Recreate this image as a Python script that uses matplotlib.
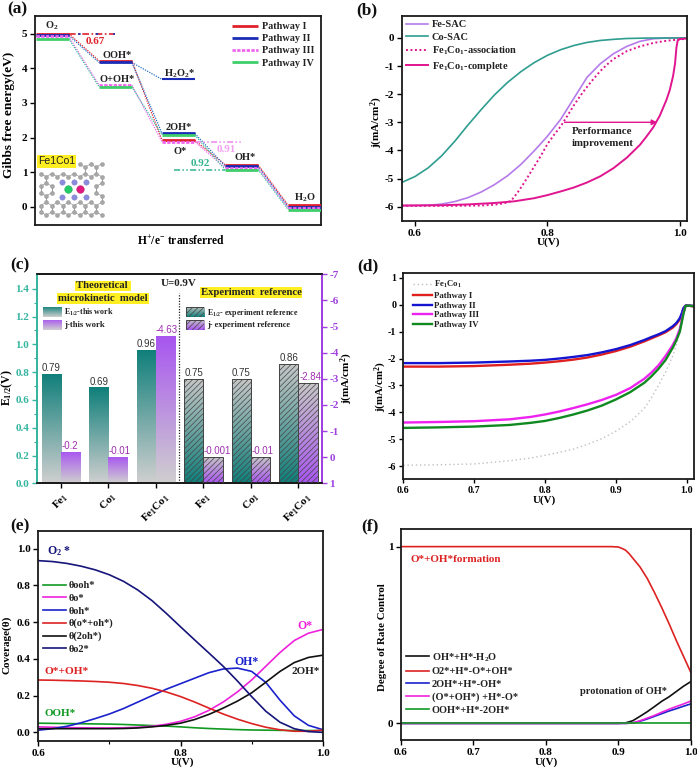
import numpy as np
import matplotlib
matplotlib.use("Agg")
import matplotlib.pyplot as plt
from matplotlib.transforms import Affine2D
from matplotlib.colors import LinearSegmentedColormap
from matplotlib.patches import Rectangle

W, H = 697, 767
SERIF = "Liberation Serif"
plt.rcParams.update({
    "font.family": SERIF, "font.weight": "bold", "font.size": 7.5,
    "axes.labelweight": "bold",
    "mathtext.fontset": "custom", "mathtext.rm": "Liberation Serif:bold",
    "mathtext.bf": "Liberation Serif:bold", "mathtext.it": "Liberation Serif:bold",
    "mathtext.default": "rm", "axes.linewidth": 1.3, "hatch.linewidth": 0.5,
    "xtick.major.width": 1.0, "ytick.major.width": 1.0,
    "xtick.minor.width": 0.8, "ytick.minor.width": 0.8,
    "axes.edgecolor": "#1a1a1a", "text.color": "#222222",
})

# ---------- (a) energy levels ----------
A_STEPS = [0, 1, 2, 3, 4]
A_E_I = [5.00, 4.22, 1.92, 1.22, 0.05]
A_E_II = [4.95, 4.17, 2.12, 1.18, 0.00]
A_E_III = [4.92, 3.52, 1.88, 1.13, -0.03]
A_E_IV = [4.86, 3.47, 2.07, 1.08, -0.08]
A_H2O2 = 3.68
A_NAMES = ["Pathway I", "Pathway II", "Pathway III", "Pathway IV"]

# ---------- (b) ----------
B_CO_X = [0.58, 0.60, 0.62, 0.64, 0.66, 0.68, 0.70, 0.72, 0.74, 0.76, 0.78, 0.80, 0.82, 0.84, 0.86, 0.88, 0.90, 0.92, 0.95, 1.01]
B_CO_Y = [-5.14, -4.93, -4.62, -4.20, -3.68, -3.10, -2.55, -2.03, -1.58, -1.20, -0.88, -0.62, -0.42, -0.27, -0.16, -0.09, -0.05, -0.02, -0.005, 0]
B_FE_X = [0.58, 0.60, 0.62, 0.64, 0.66, 0.68, 0.70, 0.72, 0.74, 0.76, 0.78, 0.80, 0.82, 0.84, 0.86, 0.88, 0.90, 0.92, 0.94, 0.96, 0.98, 1.01]
B_FE_Y = [-5.96, -5.96, -5.95, -5.91, -5.82, -5.68, -5.48, -5.22, -4.90, -4.50, -4.02, -3.50, -2.90, -2.15, -1.40, -0.92, -0.56, -0.30, -0.12, -0.03, -0.005, 0]
B_AS_X = [0.58, 0.66, 0.70, 0.72, 0.735, 0.745, 0.755, 0.765, 0.78, 0.79, 0.80, 0.81, 0.82, 0.83, 0.84, 0.85, 0.86, 0.87, 0.88, 0.89, 0.90, 0.92, 0.94, 0.96, 0.98, 1.01]
B_AS_Y = [-5.97, -5.97, -5.96, -5.93, -5.88, -5.80, -5.50, -5.15, -4.58, -4.20, -3.78, -3.45, -3.15, -2.78, -2.40, -2.05, -1.74, -1.45, -1.18, -0.95, -0.75, -0.47, -0.30, -0.18, -0.10, -0.03]
B_CP_X = [0.58, 0.64, 0.68, 0.72, 0.75, 0.78, 0.80, 0.82, 0.84, 0.86, 0.88, 0.90, 0.92, 0.94, 0.95, 0.96, 0.97, 0.98, 0.985, 0.99, 0.993, 0.995, 0.997, 1.0, 1.011]
B_CP_Y = [-5.96, -5.95, -5.92, -5.87, -5.81, -5.70, -5.59, -5.46, -5.32, -5.14, -4.92, -4.63, -4.26, -3.80, -3.50, -3.18, -2.76, -2.20, -1.85, -1.35, -0.90, -0.35, -0.08, -0.04, -0.02]

# ---------- (c) ----------
C_LABELS = [r"Fe$_1$", r"Co$_1$", r"Fe$_1$Co$_1$", r"Fe$_1$", r"Co$_1$", r"Fe$_1$Co$_1$"]
C_E = [0.79, 0.69, 0.96, 0.75, 0.75, 0.86]
C_J = [-0.2, -0.01, -4.63, -0.001, -0.01, -2.84]
C_J_TXT = ["-0.2", "-0.01", "-4.63", "-0.001", "-0.01", "-2.84"]

# ---------- (d) ----------
D_X = [0.60, 0.65, 0.70, 0.75, 0.78, 0.80, 0.82, 0.84, 0.86, 0.88, 0.90, 0.92, 0.94, 0.95, 0.96, 0.97, 0.98, 0.985, 0.99, 0.993, 0.995, 0.998, 1.00, 1.01]
D_I = [-2.30, -2.30, -2.28, -2.23, -2.19, -2.15, -2.10, -2.04, -1.96, -1.85, -1.72, -1.56, -1.36, -1.25, -1.14, -1.02, -0.85, -0.72, -0.55, -0.35, -0.15, -0.04, -0.03, -0.06]
D_II = [-2.17, -2.17, -2.15, -2.11, -2.08, -2.05, -2.00, -1.94, -1.87, -1.77, -1.65, -1.50, -1.31, -1.20, -1.10, -0.98, -0.80, -0.68, -0.50, -0.30, -0.13, -0.03, -0.02, -0.05]
D_III = [-4.38, -4.36, -4.33, -4.26, -4.17, -4.08, -3.97, -3.84, -3.70, -3.54, -3.35, -3.10, -2.75, -2.52, -2.25, -1.90, -1.50, -1.25, -0.90, -0.55, -0.30, -0.05, -0.03, -0.05]
D_IV = [-4.58, -4.56, -4.53, -4.47, -4.39, -4.32, -4.21, -4.08, -3.93, -3.75, -3.52, -3.25, -2.90, -2.66, -2.38, -2.05, -1.60, -1.33, -1.00, -0.62, -0.35, -0.05, -0.03, -0.05]
D_REF = [-5.97, -5.95, -5.92, -5.80, -5.70, -5.60, -5.49, -5.37, -5.19, -4.98, -4.70, -4.35, -3.85, -3.45, -3.00, -2.50, -1.90, -1.50, -1.00, -0.60, -0.20, -0.05, -0.03, -0.05]

# ---------- (e) ----------
E_X = [0.60, 0.62, 0.64, 0.66, 0.68, 0.70, 0.72, 0.74, 0.76, 0.78, 0.80, 0.82, 0.84, 0.86, 0.88, 0.90, 0.92, 0.94, 0.96, 0.98, 1.00]
E_OOH = [0.050, 0.049, 0.048, 0.047, 0.046, 0.045, 0.043, 0.040, 0.037, 0.034, 0.030, 0.025, 0.021, 0.018, 0.015, 0.013, 0.012, 0.011, 0.010, 0.010, 0.010]
E_O = [0.030, 0.028, 0.026, 0.025, 0.024, 0.024, 0.025, 0.028, 0.033, 0.044, 0.060, 0.085, 0.120, 0.165, 0.220, 0.285, 0.360, 0.435, 0.500, 0.540, 0.560]
E_OH = [0.012, 0.020, 0.033, 0.052, 0.075, 0.100, 0.130, 0.165, 0.200, 0.235, 0.265, 0.295, 0.325, 0.345, 0.350, 0.332, 0.272, 0.175, 0.090, 0.038, 0.015]
E_OOH2 = [0.285, 0.284, 0.282, 0.280, 0.277, 0.273, 0.266, 0.255, 0.240, 0.220, 0.195, 0.165, 0.132, 0.100, 0.072, 0.048, 0.028, 0.014, 0.006, 0.006, 0.012]
E_2OH = [0.020, 0.020, 0.020, 0.020, 0.020, 0.020, 0.021, 0.024, 0.030, 0.038, 0.050, 0.070, 0.098, 0.132, 0.170, 0.215, 0.273, 0.332, 0.380, 0.408, 0.420]
E_O2 = [0.935, 0.930, 0.920, 0.905, 0.885, 0.858, 0.822, 0.775, 0.717, 0.648, 0.575, 0.503, 0.432, 0.360, 0.280, 0.195, 0.115, 0.055, 0.020, 0.004, 0.000]

# ---------- (f) ----------
F_RED_X = [0.60, 0.85, 0.89, 0.90, 0.905, 0.91, 0.915, 0.92, 0.93, 0.94, 0.95, 0.96, 0.97, 0.98, 0.99, 1.00]
F_RED_Y = [1.0, 1.0, 1.0, 0.998, 0.99, 0.98, 0.96, 0.935, 0.885, 0.82, 0.74, 0.655, 0.565, 0.47, 0.38, 0.29]
F_X = [0.60, 0.90, 0.91, 0.92, 0.93, 0.94, 0.95, 0.96, 0.97, 0.98, 0.99, 1.00]
F_BLACK = [0, 0, 0.003, 0.015, 0.040, 0.066, 0.095, 0.125, 0.150, 0.180, 0.210, 0.236]
F_BLUE = [0, 0, 0, 0.002, 0.012, 0.025, 0.040, 0.055, 0.070, 0.083, 0.097, 0.110]
F_MAG = [0, 0, 0, 0.003, 0.015, 0.030, 0.045, 0.063, 0.080, 0.095, 0.110, 0.126]
F_GREEN = [0, 0, 0, 0, 0, 0, 0, 0, 0, 0, 0, 0]

RED, BLUE, MAG, GREEN = "#e0202c", "#1a2bb5", "#ee66ee", "#3fcf6a"
TEAL = "#0f7f7a"
PURP = "#a855f0"
GREY = "#cfcfcf"

fig = plt.figure(figsize=(W / 100, H / 100), dpi=100)
PX = Affine2D().scale(1 / W, -1 / H).translate(0, 1) + fig.transFigure


def make_ax(l, r, t, b):
    return fig.add_axes([l / W, 1 - b / H, (r - l) / W, (b - t) / H])


def txt(x, y, s, size=7.5, color="#222222", ha="center", va="center", **kw):
    fig.text(x / W, 1 - y / H, s, fontsize=size, color=color, ha=ha, va=va, zorder=9, **kw)


def labels(ax, xl, yl, xpos, ypos, size=8.5):
    p = ax.get_position()
    if xl:
        ax.set_xlabel(xl, fontsize=size)
        ax.xaxis.set_label_coords((xpos[0] / W - p.x0) / p.width, ((1 - xpos[1] / H) - p.y0) / p.height)
        ax.xaxis.label.set_va("center")
    if yl:
        ax.set_ylabel(yl, fontsize=size)
        ax.yaxis.set_label_coords((ypos[0] / W - p.x0) / p.width, ((1 - ypos[1] / H) - p.y0) / p.height)
        ax.yaxis.label.set_va("center")


def put_legend(ax, x, y, handle_px, spacing, gap_px, size=7.5):
    p = ax.get_position()
    em = size * 100 / 72
    ax.legend(loc="upper left",
              bbox_to_anchor=((x / W - p.x0) / p.width, ((1 - y / H) - p.y0) / p.height),
              frameon=False, borderpad=0, borderaxespad=0, handlelength=handle_px / em,
              labelspacing=spacing, handletextpad=gap_px / em, fontsize=size)


for s, x, y in [("(a)", 17, 9), ("(b)", 367, 10), ("(c)", 20, 265), ("(d)", 368, 266), ("(e)", 20, 526), ("(f)", 370, 526)]:
    txt(x, y, s, size=12.5, color="#111111")

# ================= (a) =================
ax = make_ax(35, 321, 16, 225)
ax.set_xlim(-0.275, 4.26)
ax.set_ylim(-0.52, 5.51)
HW = 0.26
for es, col, name in [(A_E_I, RED, A_NAMES[0]), (A_E_II, BLUE, A_NAMES[1]),
                      (A_E_III, MAG, A_NAMES[2]), (A_E_IV, GREEN, A_NAMES[3])]:
    for i, s in enumerate(A_STEPS):
        ax.plot([s - HW, s + HW], [es[i], es[i]], color=col, lw=2.0,
                solid_capstyle="butt", zorder=3, ls="-" if col != MAG else (0, (1.2, 0.5)),
                label=name if i == 0 else None)
    for i in range(len(A_STEPS) - 1):
        cc = {RED: RED, BLUE: "#2a70c8", MAG: MAG, GREEN: "#35c0a0"}[col]
        ax.plot([A_STEPS[i] + HW, A_STEPS[i + 1] - HW], [es[i], es[i + 1]], color=cc, lw=0.9,
                ls=(0, (1, 1)), zorder=2)
ax.plot([2 - HW, 2 + HW], [A_H2O2, A_H2O2], color=BLUE, lw=1.5, solid_capstyle="butt", zorder=3)
ax.plot([1 + HW, 2 - HW], [A_E_II[1], A_H2O2], color="#2a70c8", lw=0.9, ls=(0, (1, 1)), zorder=2)
ax.plot([HW, 0.99], [A_E_I[0] - 0.02] * 2, color=RED, lw=1.2, ls=(0, (4, 1.5, 1, 1.5)))
ax.plot([HW, 0.99], [A_E_I[0] - 0.02] * 2, color=BLUE, lw=1.2, ls=(5, (1.5, 9)))
ax.plot([2 + HW, 3.0], [A_E_III[2]] * 2, color="#ee88ee", lw=1.1, ls=(0, (4, 1.5, 1, 1.5, 1, 1.5)))
ax.plot([2 + HW - 0.33, 3 - HW], [A_E_IV[3]] * 2, color="#35b38f", lw=1.1, ls=(0, (4, 1.5, 1, 1.5, 1, 1.5)))
ax.set_yticks([0, 1, 2, 3, 4, 5])
ax.set_xticks([])
ax.tick_params(axis="y", direction="out", length=3.5, pad=2, labelsize=8)
labels(ax, r"H$^{+}$/e$^{-}$ transferred", "Gibbs free energy(eV)", (181, 241), (9, 115), size=8.3)
ax.yaxis.label.set_fontsize(9.6)
put_legend(ax, 232, 22, 26, 0.3, 4, 7.3)
for x, y, s, c, fs in [(52, 26, r"O$_2$", "#222222", 7.5), (117, 55, "OOH*", "#222222", 7.5), (117, 80, "O+OH*", "#222222", 7.5),
                       (179, 74, r"H$_2$O$_2$*", "#222222", 7.5), (179, 127, "2OH*", "#222222", 7.5), (180, 151, "O*", "#222222", 7.5),
                       (245, 158, "OH*", "#222222", 7.5), (305, 198, r"H$_2$O", "#222222", 7.5),
                       (95, 42, "0.67", RED, 8), (226, 149, "0.91", "#f0a0f0", 8), (200, 164, "0.92", "#35b38f", 8)]:
    txt(x, y, s, color=c, size=fs)
# structure inset (decorative lattice)
bond = 6.4
pts = []
for row in range(-3, 4):
    for col_ in range(-5, 6):
        cx = 74 + col_ * bond * np.sqrt(3) + (row % 2) * bond * np.sqrt(3) / 2
        cy = 189.5 + row * bond * 1.5
        pts += [(cx, cy - bond / 2), (cx, cy + bond / 2)]
pts = [(a, b) for a, b in pts if 39 <= a <= 107 and 158 <= b <= 218 and not (57 < a < 91 and 177 < b < 202)
       and not (a < 76 and b < 168)]
for (a1, b1) in pts:
    for (a2, b2) in pts:
        if a1 <= a2 and 0 < (a1 - a2) ** 2 + (b1 - b2) ** 2 < (bond * 1.1) ** 2:
            ax.plot([a1, a2], [b1, b2], color="#9a9a9a", lw=0.5, transform=PX, zorder=4)
ax.scatter([p[0] for p in pts], [p[1] for p in pts], s=8, c="#a8a8a8", edgecolors="#8a8a8a", linewidths=0.3, transform=PX, zorder=5)
ax.scatter([61.7, 74.3, 85.7, 61.7, 74.3, 85.7], [182, 182, 182, 196.7, 196.7, 196.7], s=15, c="#8c8cdc", edgecolors="#7878c8", linewidths=0.3, transform=PX, zorder=6)
ax.scatter([67.7], [189.3], s=30, c="#22cc66", edgecolors="#18a050", linewidths=0.3, transform=PX, zorder=6)
ax.scatter([80], [189.3], s=30, c="#e0187f", edgecolors="#b01060", linewidths=0.3, transform=PX, zorder=6)
ax.text(56.5, 161.5, "Fe1Co1", fontsize=7.5, family="Liberation Sans", weight="normal", color="#222222", ha="center", va="center",
        transform=PX, zorder=7, bbox=dict(facecolor="#ffee22", edgecolor="none", pad=0.8))

# ================= (b) =================
ax = make_ax(401.7, 687, 16, 221)
ax.set_xlim(0.58, 1.011)
ax.set_ylim(-6.51, 0.78)
ax.plot(B_FE_X, B_FE_Y, color="#b57bea", lw=1.2, label="Fe-SAC")
ax.plot(B_CO_X, B_CO_Y, color="#2f9d8f", lw=1.2, label="Co-SAC")
ax.plot(B_AS_X, B_AS_Y, color="#e0158f", lw=1.4, ls=(0, (1, 1.3)), label=r"Fe$_1$Co$_1$-association")
ax.plot(B_CP_X, B_CP_Y, color="#e0158f", lw=1.4, label=r"Fe$_1$Co$_1$-complete")
ax.annotate("", xy=(0.966, -3.0), xytext=(0.826, -3.0),
            arrowprops=dict(arrowstyle="-|>", color="#e0158f", lw=1.0, mutation_scale=8, shrinkA=0, shrinkB=0))
ax.set_xticks([0.6, 0.8, 1.0])
ax.set_yticks([0, -1, -2, -3, -4, -5, -6])
ax.set_yticklabels(["0", "-1", "-2", "-3", "-4", "-5", "-6"])
ax.tick_params(direction="out", length=3.5, pad=2, labelsize=8)
labels(ax, "U(V)", r"j(mA/cm$^2$)", (548, 242.5), (377, 122), size=8)
put_legend(ax, 406, 20, 22, 0.28, 4, 7.5)
txt(602, 131, "Performance", size=7.8)
txt(603, 144, "improvement", size=7.8)

# ================= (c) =================
ax = make_ax(36.7, 321.7, 274.3, 483.3)
ax2 = ax.twinx()
ax2.set_position(ax.get_position())
BW = 0.404


def grad_bar(axis, x0, x1, y0, y1, top, bottom, hatch=None, edge="none"):
    """Rectangle x0..x1, y0..y1 in data coordinates; colour 'top' at y1, 'bottom' at y0."""
    r = Rectangle((x0, y0), x1 - x0, y1 - y0, facecolor="none", edgecolor="none", zorder=2)
    axis.add_patch(r)
    g = np.linspace(0, 1, 128).reshape(-1, 1)
    cmap = LinearSegmentedColormap.from_list("g", [top, bottom])
    im = axis.imshow(g, cmap=cmap, extent=(x0, x1, y0, y1), origin="upper", aspect="auto", zorder=2)
    im.set_clip_path(r)
    axis.add_patch(Rectangle((x0, y0), x1 - x0, y1 - y0, facecolor="none", edgecolor=edge, linewidth=0.7,
                             hatch=hatch, zorder=3))


J_DX = [0.0, 0.04, 0.02, 0.1, 0.04, 0.05]
for i, (e, j) in enumerate(zip(C_E, C_J)):
    ax.bar(i - BW / 2, e, BW, color="none")
    if i < 3:
        grad_bar(ax, i - BW, i, 0, e, TEAL, GREY)
        grad_bar(ax2, i, i + BW, 1, j, PURP, GREY)
    else:
        grad_bar(ax, i - BW, i, 0, e, "#c8c8c8", TEAL, hatch="//////", edge="#444444")
        grad_bar(ax2, i, i + BW, 1, j, "#c8c8c8", PURP, hatch="//////", edge="#444444")
    ax.text(i - BW / 2, e + 0.005, f"{e:.2f}", family="Liberation Sans", weight="normal", fontsize=7,
            color="#333333", ha="center", va="bottom", zorder=6)
    ax2.text(i + BW / 2 + J_DX[i], j - 0.03, C_J_TXT[i], family="Liberation Sans", weight="normal", fontsize=7,
             color="#a030b0", ha="center", va="bottom", zorder=6)
ax.set_xlim(-0.505, 5.49)
ax.set_ylim(0, 1.504)
ax2.set_xlim(-0.505, 5.49)
ax2.set_ylim(1, -7)
ax.set_zorder(1)
ax2.set_zorder(2)
ax2.patch.set_visible(False)
ax2.plot([2.498, 2.498], [1, -6.3], color="#222222", lw=0.9, ls=(0, (1, 1.2)), zorder=5)
ax.set_xticks(range(6))
ax.set_xticklabels(C_LABELS, rotation=45, ha="center", fontsize=8)
ax.set_yticks(np.arange(0, 1.41, 0.2))
ax.set_yticks(np.arange(0.1, 1.41, 0.2), minor=True)
ax.tick_params(axis="y", which="major", colors="#35b5a0", direction="out", length=3.5, pad=2, labelsize=8)
ax.tick_params(axis="y", which="minor", colors="#35b5a0", direction="out", length=2)
ax.tick_params(axis="x", direction="out", length=3.5, pad=2)
ax2.set_yticks(list(range(-7, 2)))
ax2.set_yticklabels(["-7", "-6", "-5", "-4", "-3", "-2", "-1", "0", "1"])
ax2.tick_params(axis="y", colors="#a040e0", direction="out", length=3.5, pad=2, labelsize=8)
for a_ in (ax, ax2):
    a_.spines["left"].set_color("#35b5a0")
    a_.spines["right"].set_color("#a040e0")
labels(ax, None, r"E$_{1/2}$(V)", None, (7, 388), size=8.5)
labels(ax2, None, r"j(mA/cm$^2$)", None, (347, 378), size=8)
Y = dict(facecolor="#ffee22", edgecolor="none", pad=0.6)
txt(103, 286, "Theoretical ", size=7.7, bbox=Y)
txt(103, 298.5, "microkinetic  model", size=7.7, bbox=Y)
txt(251, 292.5, "Experiment  reference", size=7.7, bbox=Y)
txt(179, 283.5, "U=0.9V", size=7.9)


def swatch(xp, yp, top, bottom, hatch=None, edge="none"):
    a = make_ax(xp, xp + 18.3, yp - 5, yp + 5)
    a.set_axis_off()
    a.set_zorder(5)
    grad_bar(a, 0, 1, 0, 1, top, bottom, hatch=hatch, edge=edge)
    a.set_xlim(0, 1)
    a.set_ylim(0, 1)


swatch(43.3, 312, TEAL, GREY)
swatch(43.3, 324.6, PURP, GREY)
swatch(186, 312, "#c8c8c8", TEAL, "//////", "#444444")
swatch(186, 324.6, "#c8c8c8", PURP, "//////", "#444444")
txt(64, 312, r"E$_{1/2}$-this work", size=5.8, ha="left")
txt(64, 324.5, "j-this work", size=6.2, ha="left")
txt(207, 313, r"E$_{1/2}$- experiment reference", size=5.8, ha="left")
txt(207, 324.5, "j- experiment reference", size=6.0, ha="left")

# ================= (d) =================
ax = make_ax(403.3, 694, 273.3, 479)
ax.set_xlim(0.6, 1.01)
ax.set_ylim(-6.48, 1.17)
ax.plot(D_X, D_REF, color="#c0c0c0", lw=1.0, ls=(0, (1, 2)), label=r"Fe$_1$Co$_1$")
ax.plot(D_X, D_I, color="#e01f1f", lw=1.7, label="Pathway I")
ax.plot(D_X, D_II, color="#1515d0", lw=1.7, label="Pathway II")
ax.plot(D_X, D_III, color="#ee22ee", lw=1.7, label="Pathway III")
ax.plot(D_X, D_IV, color="#108a20", lw=1.7, label="Pathway IV")
ax.set_xticks([0.6, 0.7, 0.8, 0.9, 1.0])
ax.set_yticks([1, 0, -1, -2, -3, -4, -5, -6])
ax.set_yticklabels(["1", "0", "-1", "-2", "-3", "-4", "-5", "-6"])
ax.tick_params(direction="out", length=3, pad=2, labelsize=7.2)
labels(ax, "U(V)", r"j(mA/cm$^2$)", (544, 500.5), (381, 387), size=7.8)
put_legend(ax, 412.7, 279, 19, 0.18, 2.5, 6.3)

# ================= (e) =================
ax = make_ax(38.3, 322.7, 530.7, 741)
ax.set_xlim(0.6, 1.0)
ax.set_ylim(-0.047, 1.098)
ax.plot(E_X, E_OOH, color="#119922", lw=1.2, label="θooh*")
ax.plot(E_X, E_O, color="#ee22dd", lw=1.2, label="θo*")
ax.plot(E_X, E_OH, color="#1a22cc", lw=1.2, label="θoh*")
ax.plot(E_X, E_OOH2, color="#dd2222", lw=1.2, label="θ(o*+oh*)")
ax.plot(E_X, E_2OH, color="#111111", lw=1.2, label="θ(2oh*)")
ax.plot(E_X, E_O2, color="#15157a", lw=1.2, label="θo2*")
ax.set_xticks([0.6, 0.8, 1.0])
ax.set_xticks([0.7, 0.9], minor=True)
ax.set_yticks(np.arange(0, 1.01, 0.2))
ax.tick_params(direction="out", length=3.5, pad=2, labelsize=8)
ax.tick_params(which="minor", direction="out", length=2)
labels(ax, "U(V)", "Coverage(θ)", (182, 762), (7, 645), size=8)
put_legend(ax, 42.7, 581, 23, 0.32, 2.5, 7.5)
txt(59, 551, r"O$_2$ *", color="#15157a", size=8.5)
txt(67, 671, "O*+OH*", color="#dd2222", size=8.2)
txt(60, 714, "OOH*", color="#119922", size=8)
txt(246, 662, "OH*", color="#1a22cc", size=8.5)
txt(305, 626, "O*", color="#ee22dd", size=8.5)
txt(306, 671, "2OH*", size=8)

# ================= (f) =================
ax = make_ax(401, 690.7, 529.3, 740)
ax.set_xlim(0.6, 1.0)
ax.set_ylim(-0.094, 1.098)
ax.plot(F_X, F_BLACK, color="#111111", lw=1.2, label=r"OH*+H*-H$_2$O")
ax.plot(F_RED_X, F_RED_Y, color="#dd2222", lw=1.2, label="O2*+H*-O*+OH*")
ax.plot(F_X, F_BLUE, color="#1a22cc", lw=1.2, label="2OH*+H*-OH*")
ax.plot(F_X, F_MAG, color="#ee22dd", lw=1.2, label="(O*+OH*) +H*-O*")
ax.plot(F_X, F_GREEN, color="#119922", lw=1.2, label="OOH*+H*-2OH*")
ax.set_xticks([0.6, 0.7, 0.8, 0.9, 1.0])
ax.set_yticks([0, 1])
ax.tick_params(direction="out", length=3.5, pad=2, labelsize=8)
labels(ax, "U(V)", "Degree of Rate Control", (546, 762), (383, 637), size=7.8)
put_legend(ax, 406, 651, 23, 0.33, 2.5, 7.5)
txt(456, 560, "O*+OH*formation", color="#dd2222", size=8.0)
txt(624, 691, "protonation of OH*", size=7.5)

fig.savefig("out.png", dpi=100)
